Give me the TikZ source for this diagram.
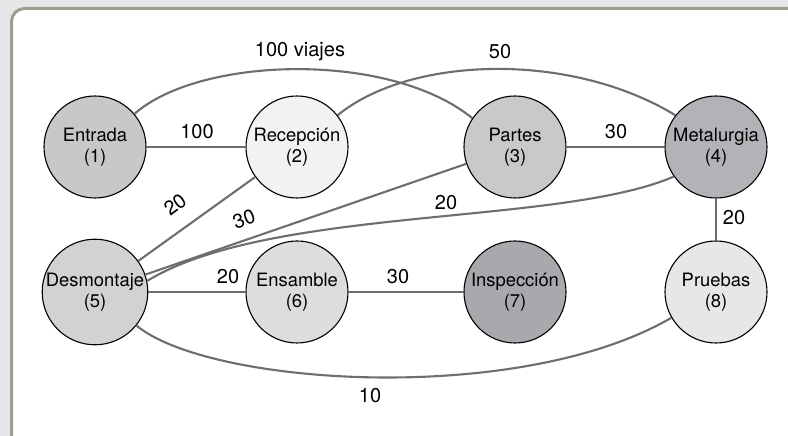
\documentclass[tikz,border=0pt]{standalone}
\usepackage{fontspec}
\setmainfont{TeX Gyre Heros}
\definecolor{bgout}{HTML}{E6E7E8}
\definecolor{frame}{HTML}{9D9D8F}
\definecolor{edgegray}{HTML}{6D6E71}
\definecolor{cEntrada}{HTML}{C7C8CA}
\definecolor{cRecep}{HTML}{F1F2F3}
\definecolor{cPartes}{HTML}{C8C9CB}
\definecolor{cMetal}{HTML}{B1B3B6}
\definecolor{cDesm}{HTML}{D1D2D4}
\definecolor{cEns}{HTML}{DCDDDE}
\definecolor{cInsp}{HTML}{A7A9AC}
\definecolor{cPrue}{HTML}{E6E7E8}
\tikzset{
  dept/.style={circle, draw=black, line width=1.1pt, minimum size=102pt, inner sep=0pt,
    align=center, font=\fontsize{18.4}{21.5}\selectfont},
  link/.style={draw=edgegray, line width=2.1pt},
  lbl/.style={font=\fontsize{20}{22}\selectfont, inner sep=0pt}
}
\begin{document}
\begin{tikzpicture}[x=1pt,y=1pt]
\useasboundingbox (0,0) rectangle (788,436);
\clip (0,0) rectangle (788,436);
\fill[bgout] (0,0) rectangle (788,436);
\draw[frame, fill=white, line width=3pt, rounded corners=13pt] (11.5,-20) rectangle (810,427.5);

% nodes
\node[dept, fill=cEntrada] (ent) at (95,289) {Entrada\\(1)};
\node[dept, fill=cRecep]   (rec) at (297,289) {Recepción\\(2)};
\node[dept, fill=cPartes]  (par) at (515,289) {Partes\\(3)};
\node[dept, fill=cMetal]   (met) at (716,289) {Metalurgia\\(4)};
\node[dept, fill=cDesm]    (des) at (95,144) {Desmontaje\\(5)};
\node[dept, fill=cEns]     (ens) at (297,144) {Ensamble\\(6)};
\node[dept, fill=cInsp]    (ins) at (515,144) {Inspección\\(7)};
\node[dept, fill=cPrue]    (pru) at (716,144) {Pruebas\\(8)};

% connectors
\draw[link] (ent) -- (rec);
\draw[link] (par) -- (met);
\draw[link] (met) -- (pru);
\draw[link] (des) -- (rec);
\draw[link] (des) -- (par);
\draw[link] (des) -- (ens);
\draw[link] (ens) -- (ins);
\draw[link] (ent.40) .. controls (200,380) and (390,385) .. (par.146);
\draw[link] (rec.38) .. controls (410,380) and (570,385) .. (met.142);
\draw[link] (des.12) .. controls (270,230) and (560,210) .. (met.215);
\draw[link] (des.-39) .. controls (210,50) and (520,30) .. (pru.210);

% labels
\node[lbl] (l1) at (300,384) {100 viajes};
\node[lbl] (l2) at (197,304) {100};
\node[lbl] (l3) at (500,384) {50};
\node[lbl] (l4) at (616,304) {30};
\node[lbl] (l5) at (734,218) {20};
\node[lbl, rotate=36.8] (l6) at (175,231.5) {20};
\node[lbl, rotate=19.8] (l7) at (244,217) {30};
\node[lbl] (l8) at (446,233) {20};
\node[lbl] (l9) at (228,159) {20};
\node[lbl] (l10) at (398,159) {30};
\node[lbl] (l11) at (370,40) {10};
\end{tikzpicture}
\end{document}
